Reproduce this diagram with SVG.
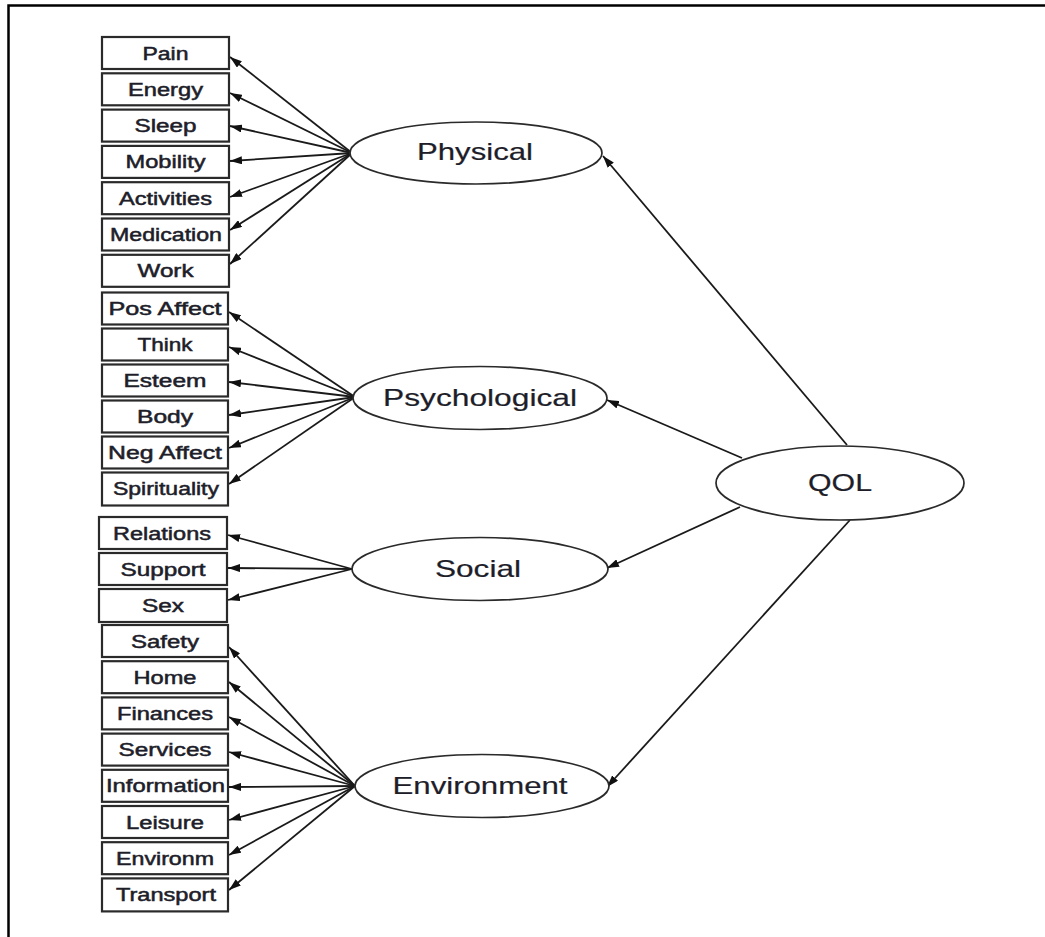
<svg xmlns="http://www.w3.org/2000/svg" width="1045" height="937" viewBox="0 0 1045 937">
  <style>
    .box { fill: #fff; stroke: #2a2a2a; stroke-width: 2.2; }
    .ell { fill: #fff; stroke: #2a2a2a; stroke-width: 1.7; }
    .lbl { font-family: "Liberation Sans", Arial, sans-serif; font-size: 17.5px; fill: #1e1e2a; stroke: #1e1e2a; stroke-width: 0.5; text-anchor: middle; }
    .lat { font-family: "Liberation Sans", Arial, sans-serif; font-size: 24px; fill: #1e1e2a; stroke: #1e1e2a; stroke-width: 0.2; text-anchor: middle; }
    .link { stroke: #1a1a1a; stroke-width: 1.8; fill: none; marker-end: url(#ah); }
  </style>
  <defs>
    <marker id="ah" viewBox="0 0 12 8" refX="12" refY="4" markerWidth="12" markerHeight="8" markerUnits="userSpaceOnUse" orient="auto">
      <path d="M0,0 L12,4 L0,8 z" fill="#111"/>
    </marker>
  </defs>

  <rect width="1045" height="937" fill="#fff"/>
  <!-- frame -->
  <path d="M1045 5.5 H8.5 V937" fill="none" stroke="#000" stroke-width="2.5"/>

  <!-- connectors -->
  <g id="connectors">
    <!-- Physical indicators -->
    <line class="link" x1="352" y1="153" x2="230" y2="57"/>
    <line class="link" x1="352" y1="153" x2="230" y2="93"/>
    <line class="link" x1="352" y1="153" x2="230" y2="126"/>
    <line class="link" x1="352" y1="153" x2="230" y2="161"/>
    <line class="link" x1="352" y1="153" x2="230" y2="197"/>
    <line class="link" x1="352" y1="153" x2="230" y2="230"/>
    <line class="link" x1="352" y1="153" x2="230" y2="264"/>
    <!-- Psychological indicators -->
    <line class="link" x1="355" y1="397" x2="229" y2="312"/>
    <line class="link" x1="355" y1="397" x2="229" y2="347"/>
    <line class="link" x1="355" y1="397" x2="229" y2="382"/>
    <line class="link" x1="355" y1="397" x2="229" y2="415"/>
    <line class="link" x1="355" y1="397" x2="229" y2="448"/>
    <line class="link" x1="355" y1="397" x2="229" y2="484"/>
    <!-- Social indicators -->
    <line class="link" x1="352" y1="569" x2="228" y2="535"/>
    <line class="link" x1="352" y1="569" x2="228" y2="568"/>
    <line class="link" x1="352" y1="569" x2="228" y2="600"/>
    <!-- Environment indicators -->
    <line class="link" x1="355" y1="786" x2="229" y2="647"/>
    <line class="link" x1="355" y1="786" x2="229" y2="682"/>
    <line class="link" x1="355" y1="786" x2="229" y2="717"/>
    <line class="link" x1="355" y1="786" x2="229" y2="752"/>
    <line class="link" x1="355" y1="786" x2="229" y2="787"/>
    <line class="link" x1="355" y1="786" x2="229" y2="820"/>
    <line class="link" x1="355" y1="786" x2="229" y2="855"/>
    <line class="link" x1="355" y1="786" x2="229" y2="890"/>
    <!-- QOL to domains -->
    <line class="link" x1="847" y1="445" x2="603" y2="156"/>
    <line class="link" x1="742" y1="458" x2="607" y2="400"/>
    <line class="link" x1="740" y1="507" x2="607" y2="568"/>
    <line class="link" x1="850" y1="520" x2="607" y2="787"/>
  </g>

  <!-- latent variables -->
  <g id="physical"><ellipse class="ell" cx="476" cy="153" rx="126" ry="31"/><text class="lat" x="475" y="160" textLength="116" lengthAdjust="spacingAndGlyphs">Physical</text></g>
  <g id="psychological"><ellipse class="ell" cx="480" cy="398" rx="127" ry="31.5"/><text class="lat" x="480" y="406" textLength="194" lengthAdjust="spacingAndGlyphs">Psychological</text></g>
  <g id="social"><ellipse class="ell" cx="480" cy="569" rx="128" ry="31.5"/><text class="lat" x="478" y="577" textLength="86" lengthAdjust="spacingAndGlyphs">Social</text></g>
  <g id="environment"><ellipse class="ell" cx="482" cy="786" rx="127" ry="31.5"/><text class="lat" x="480" y="794" textLength="175" lengthAdjust="spacingAndGlyphs">Environment</text></g>
  <g id="qol"><ellipse class="ell" cx="840" cy="483" rx="124" ry="37"/><text class="lat" x="840" y="491" textLength="64" lengthAdjust="spacingAndGlyphs">QOL</text></g>

  <!-- Physical items -->
  <g id="pain"><rect class="box" x="102" y="37" width="127" height="32"/><text class="lbl" x="165.5" y="59.5" textLength="46" lengthAdjust="spacingAndGlyphs">Pain</text></g>
  <g id="energy"><rect class="box" x="102" y="73.3" width="127" height="32"/><text class="lbl" x="165.5" y="95.8" textLength="75" lengthAdjust="spacingAndGlyphs">Energy</text></g>
  <g id="sleep"><rect class="box" x="102" y="109.6" width="127" height="32"/><text class="lbl" x="165.5" y="132.1" textLength="62" lengthAdjust="spacingAndGlyphs">Sleep</text></g>
  <g id="mobility"><rect class="box" x="102" y="145.9" width="127" height="32"/><text class="lbl" x="165.5" y="168.4" textLength="80" lengthAdjust="spacingAndGlyphs">Mobility</text></g>
  <g id="activities"><rect class="box" x="102" y="182.2" width="127" height="32"/><text class="lbl" x="165.5" y="204.7" textLength="93" lengthAdjust="spacingAndGlyphs">Activities</text></g>
  <g id="medication"><rect class="box" x="102" y="218.5" width="127" height="32"/><text class="lbl" x="166" y="241" textLength="112" lengthAdjust="spacingAndGlyphs">Medication</text></g>
  <g id="work"><rect class="box" x="102" y="254.8" width="127" height="32"/><text class="lbl" x="165.5" y="277.3" textLength="56" lengthAdjust="spacingAndGlyphs">Work</text></g>

  <!-- Psychological items -->
  <g id="pos-affect"><rect class="box" x="102" y="292.5" width="126" height="32"/><text class="lbl" x="165" y="315" textLength="113" lengthAdjust="spacingAndGlyphs">Pos Affect</text></g>
  <g id="think"><rect class="box" x="102" y="328.5" width="126" height="32"/><text class="lbl" x="165" y="351" textLength="55" lengthAdjust="spacingAndGlyphs">Think</text></g>
  <g id="esteem"><rect class="box" x="102" y="364.5" width="126" height="32"/><text class="lbl" x="165" y="387" textLength="83" lengthAdjust="spacingAndGlyphs">Esteem</text></g>
  <g id="body"><rect class="box" x="102" y="400.5" width="126" height="32"/><text class="lbl" x="165" y="423" textLength="56" lengthAdjust="spacingAndGlyphs">Body</text></g>
  <g id="neg-affect"><rect class="box" x="102" y="436.5" width="126" height="32"/><text class="lbl" x="165" y="459" textLength="114" lengthAdjust="spacingAndGlyphs">Neg Affect</text></g>
  <g id="spirituality"><rect class="box" x="102" y="472.5" width="126" height="33"/><text class="lbl" x="166" y="495" textLength="106" lengthAdjust="spacingAndGlyphs">Spirituality</text></g>

  <!-- Social items -->
  <g id="relations"><rect class="box" x="99" y="517" width="128" height="32"/><text class="lbl" x="162" y="539.5" textLength="98" lengthAdjust="spacingAndGlyphs">Relations</text></g>
  <g id="support"><rect class="box" x="99" y="553" width="128" height="32"/><text class="lbl" x="163" y="575.5" textLength="85" lengthAdjust="spacingAndGlyphs">Support</text></g>
  <g id="sex"><rect class="box" x="99" y="589" width="128" height="33"/><text class="lbl" x="163" y="611.5" textLength="42" lengthAdjust="spacingAndGlyphs">Sex</text></g>

  <!-- Environment items -->
  <g id="safety"><rect class="box" x="102" y="625" width="126" height="32"/><text class="lbl" x="165" y="647.5" textLength="68" lengthAdjust="spacingAndGlyphs">Safety</text></g>
  <g id="home"><rect class="box" x="102" y="661.2" width="126" height="32"/><text class="lbl" x="165" y="683.7" textLength="63" lengthAdjust="spacingAndGlyphs">Home</text></g>
  <g id="finances"><rect class="box" x="102" y="697.4" width="126" height="32"/><text class="lbl" x="165" y="719.9" textLength="96" lengthAdjust="spacingAndGlyphs">Finances</text></g>
  <g id="services"><rect class="box" x="102" y="733.6" width="126" height="32"/><text class="lbl" x="165" y="756.1" textLength="93" lengthAdjust="spacingAndGlyphs">Services</text></g>
  <g id="information"><rect class="box" x="102" y="769.8" width="126" height="32"/><text class="lbl" x="165.5" y="792.3" textLength="119" lengthAdjust="spacingAndGlyphs">Information</text></g>
  <g id="leisure"><rect class="box" x="102" y="806" width="126" height="32"/><text class="lbl" x="165" y="828.5" textLength="78" lengthAdjust="spacingAndGlyphs">Leisure</text></g>
  <g id="environm"><rect class="box" x="102" y="842.2" width="126" height="32"/><text class="lbl" x="165" y="864.7" textLength="98" lengthAdjust="spacingAndGlyphs">Environm</text></g>
  <g id="transport"><rect class="box" x="102" y="878.4" width="126" height="33"/><text class="lbl" x="166" y="901" textLength="100" lengthAdjust="spacingAndGlyphs">Transport</text></g>
</svg>
